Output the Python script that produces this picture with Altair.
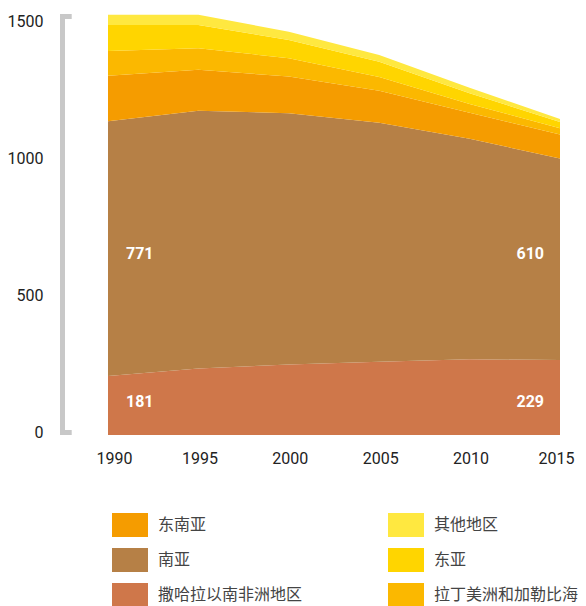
import altair as alt
import pandas as pd

years = [1990, 1995, 2000, 2005, 2010, 2015]

# region names (stack order, bottom to top)
regions = ["撒哈拉以南非洲地区", "南亚", "东南亚", "拉丁美洲和加勒比海", "东亚", "其他地区"]
colors = ["#CF774A", "#B68046", "#F59C00", "#FBB800", "#FFD500", "#FFE840"]

ssa = [216, 243, 258, 268, 277, 274]
south_asia = [932, 943, 919, 874, 807, 737]
southeast_asia = [166, 150, 134, 117, 95, 88]
latin_america = [91, 79, 67, 51, 32, 23]
east_asia = [95, 85, 67, 55, 39, 23]
other = [37, 37, 30, 25, 20, 11]
series = [ssa, south_asia, southeast_asia, latin_america, east_asia, other]

# legend order (filled column by column, two columns)
legend_order = ["东南亚", "南亚", "撒哈拉以南非洲地区", "其他地区", "东亚", "拉丁美洲和加勒比海"]

# in-chart labels
label_texts_start = ["181", "771"]
label_texts_end = ["229", "610"]

y_ticks = [0, 500, 1000, 1500]

rows = []
for i, (name, vals) in enumerate(zip(regions, series)):
    for yr, v in zip(years, vals):
        rows.append({"year": yr, "region": name, "value": v, "idx": i})
df = pd.DataFrame(rows)

color_map = dict(zip(regions, colors))
scale_color = alt.Scale(domain=legend_order, range=[color_map[r] for r in legend_order])

NUM_FONT = "Roboto"
CJK_FONT = "Noto Sans CJK SC"

xscale = alt.Scale(domain=[1990, 2015], nice=False)
yscale = alt.Scale(domain=[0, 1540], nice=False)

area = alt.Chart(df).mark_area(opacity=1).encode(
    x=alt.X("year:Q", scale=xscale,
            axis=alt.Axis(values=years, format="d", title=None, grid=False,
                          domain=False, ticks=False, tickSize=0, labelPadding=15,
                          labelFlush=True, labelFlushOffset=13, labelOffset=1,
                          labelFont=NUM_FONT, labelFontSize=16, labelColor="#222222")),
    y=alt.Y("value:Q", stack="zero", scale=yscale,
            axis=alt.Axis(values=y_ticks, format="d", title=None, grid=False, domain=False,
                          ticks=False, tickSize=0, labelPadding=65, labelOffset=-3,
                          labelFont=NUM_FONT, labelFontSize=16, labelColor="#222222")),
    color=alt.Color("region:N", scale=scale_color,
                    legend=alt.Legend(title=None, orient="none", legendX=10, legendY=499,
                                      columns=2, columnPadding=85, rowPadding=11,
                                      symbolType="M-1.5,-1H1.5V1H-1.5Z", symbolSize=576,
                                      symbolStrokeWidth=0, symbolOpacity=1,
                                      labelOffset=16, labelFont=CJK_FONT,
                                      labelFontSize=16, labelColor="#444444",
                                      padding=0, labelLimit=300)),
    order=alt.Order("idx:Q", sort="ascending"),
)

# label heights: mean of the layer middles at the first and last year
mid_ssa = (ssa[0] / 2 + ssa[-1] / 2) / 2
mid_sa = ((ssa[0] + south_asia[0] / 2) + (ssa[-1] + south_asia[-1] / 2)) / 2
lab_start = pd.DataFrame({"year": [years[0]] * 2, "mid": [mid_ssa, mid_sa], "txt": label_texts_start})
lab_end = pd.DataFrame({"year": [years[-1]] * 2, "mid": [mid_ssa, mid_sa], "txt": label_texts_end})

txt_start = alt.Chart(lab_start).mark_text(
    align="left", baseline="middle", dx=18, color="white", font=NUM_FONT,
    fontSize=16, fontWeight="bold"
).encode(x=alt.X("year:Q", scale=xscale), y=alt.Y("mid:Q", scale=yscale), text="txt:N")

txt_end = alt.Chart(lab_end).mark_text(
    align="right", baseline="middle", dx=-16, color="white", font=NUM_FONT,
    fontSize=16, fontWeight="bold"
).encode(x=alt.X("year:Q", scale=xscale), y=alt.Y("mid:Q", scale=yscale), text="txt:N")

# bracket-style axis line
one = pd.DataFrame({"a": [0]})
BR = "#C8C8C8"
vline = alt.Chart(one).mark_rule(color=BR, strokeWidth=5, strokeCap="butt").encode(
    x=alt.value(-45.5), y=alt.value(0), y2=alt.value(421))
hook_top = alt.Chart(one).mark_rule(color=BR, strokeWidth=5, strokeCap="butt").encode(
    x=alt.value(-48), x2=alt.value(-36.3), y=alt.value(2.5))
hook_bot = alt.Chart(one).mark_rule(color=BR, strokeWidth=5, strokeCap="butt").encode(
    x=alt.value(-48), x2=alt.value(-36.3), y=alt.value(418.5))

chart = alt.layer(area, txt_start, txt_end, vline, hook_top, hook_bot).properties(
    width=452, height=421,
    autosize=alt.AutoSizeParams(type="none"),
    padding={"left": 100, "top": 6, "right": 18, "bottom": 171},
).configure_view(strokeWidth=0)

chart.save("out.html", embed_options={"renderer": "svg", "actions": False})
